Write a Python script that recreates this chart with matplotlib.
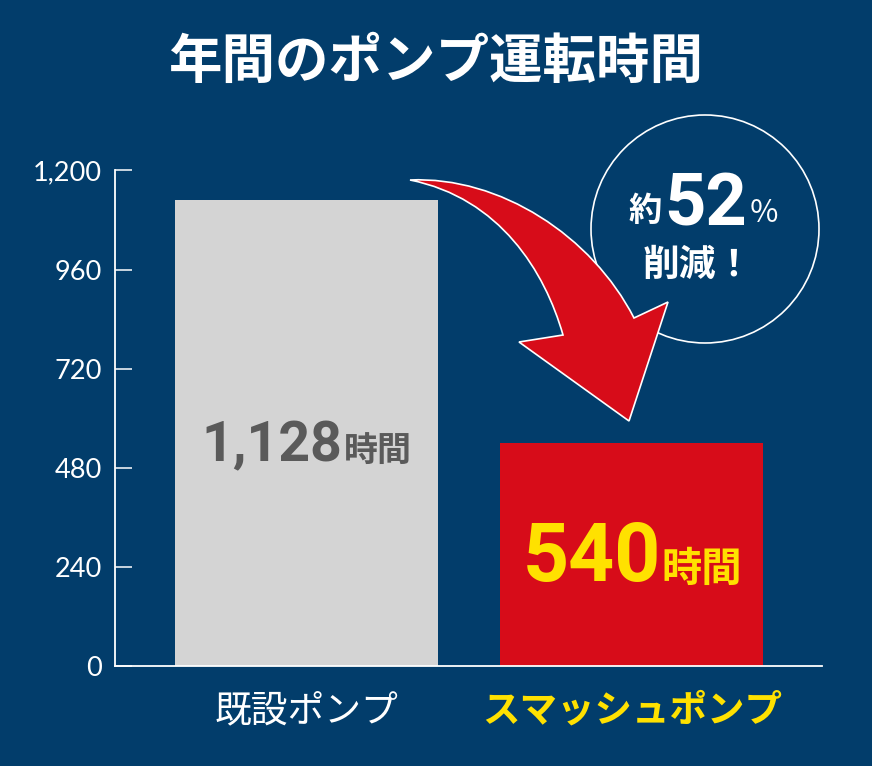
import matplotlib
matplotlib.use("Agg")
import matplotlib.pyplot as plt
from matplotlib.path import Path
from matplotlib.patches import PathPatch, Circle
import matplotlib.transforms as mtransforms

# ---- data ----
categories = ["既設ポンプ", "スマッシュポンプ"]
hours = [1128, 540]
value_labels = ["1,128", "540"]
unit_label = "時間"
yticks = [0, 240, 480, 720, 960, 1200]
ytick_labels = ["0", "240", "480", "720", "960", "1,200"]
title = "年間のポンプ運転時間"
badge_line1 = ("約", "52", "％")
badge_line2 = "削減！"

# ---- style ----
W, H, DPI = 872, 766, 100
BG = "#023D6B"
GREY = "#D4D4D4"
RED = "#D70C19"
YELLOW = "#FFE100"
DARK = "#5A5A5A"
CJK = "Noto Sans CJK JP"
NUM = "Roboto"
TICKF = "Lato"

fig = plt.figure(figsize=(W / DPI, H / DPI), dpi=DPI, facecolor=BG)
ax = fig.add_axes([115 / W, 100 / H, 707 / W, 495.5 / H])
ax.set_facecolor(BG)

x = [0, 1]
bar_colors = [GREY, RED]
ax.bar(x, hours, width=0.808, color=bar_colors, zorder=2)
ax.set_xlim(-0.588, 1.584)
ax.set_ylim(0, 1200)

for s in ["top", "right"]:
    ax.spines[s].set_visible(False)
for s in ["left", "bottom"]:
    ax.spines[s].set_color("white")
    ax.spines[s].set_linewidth(1.3)
    ax.spines[s].set_zorder(3)

ax.set_yticks(yticks)
ax.set_yticklabels(ytick_labels, fontfamily=TICKF, fontsize=19.5, color="white")
ax.tick_params(axis="y", direction="in", length=12.2, width=1.1, color="white", pad=9.4)

ax.set_xticks(x)
ax.set_xticklabels(categories, fontfamily=CJK, fontsize=26.5)
ax.tick_params(axis="x", length=0, pad=18)
xl = ax.get_xticklabels()
xl[0].set_color("white")
xl[0].set_fontweight("normal")
xl[1].set_color(YELLOW)
xl[1].set_fontweight("bold")
xl[1].set_fontsize(27)

# bar value labels
num_sizes = [40, 58]
unit_sizes = [24.5, 29]
txt_colors = [DARK, YELLOW]
split = [36, 29]
base_off = [-28, -26]
for i, v in enumerate(hours):
    ax.annotate(value_labels[i], xy=(x[i], v / 2), xytext=(split[i], base_off[i]),
                textcoords="offset pixels", ha="right", va="baseline",
                fontfamily=NUM, fontweight="bold", fontsize=num_sizes[i],
                color=txt_colors[i], zorder=4)
    ax.annotate(unit_label, xy=(x[i], v / 2), xytext=(split[i] + 1, base_off[i]),
                textcoords="offset pixels", ha="left", va="baseline",
                fontfamily=CJK, fontweight="bold", fontsize=unit_sizes[i],
                color=txt_colors[i], zorder=4)

# title
fig.text(0.5, 1 - 62 / H, title, ha="center", va="center", fontfamily=CJK,
         fontweight="bold", fontsize=38.5, color="white")

# pixel transform (top-left origin)
pix = mtransforms.Affine2D().scale(1 / DPI, -1 / DPI).translate(0, H / DPI) + fig.dpi_scale_trans

# badge circle
circ = Circle((705, 229), 114, transform=pix, facecolor="none", edgecolor="white",
              linewidth=1.2, zorder=5)
fig.add_artist(circ)

# curved arrow
verts = [
    (410, 180),
    (500, 176), (592, 236), (634, 318),
    (668, 302),
    (629, 421),
    (519, 342),
    (563, 335),
    (545, 272), (500, 198), (410, 180),
    (410, 180),
]
codes = [Path.MOVETO,
         Path.CURVE4, Path.CURVE4, Path.CURVE4,
         Path.LINETO, Path.LINETO, Path.LINETO, Path.LINETO,
         Path.CURVE4, Path.CURVE4, Path.CURVE4,
         Path.CLOSEPOLY]
arrow = PathPatch(Path(verts, codes), transform=pix, facecolor=RED, edgecolor="white",
                  linewidth=1.2, zorder=6)
fig.add_artist(arrow)

# badge text
fig.text(628 / W, 1 - 221 / H, badge_line1[0], ha="left", va="baseline",
         fontfamily=CJK, fontweight="bold", fontsize=24, color="white")
fig.text(664 / W, 1 - 225 / H, badge_line1[1], ha="left", va="baseline",
         fontfamily=NUM, fontweight="bold", fontsize=52, color="white")
fig.text(749 / W, 1 - 222 / H, badge_line1[2], ha="left", va="baseline",
         fontfamily=CJK, fontweight="normal", fontsize=22, color="white")
fig.text(698 / W, 1 - 265 / H, badge_line2, ha="center", va="center",
         fontfamily=CJK, fontweight="bold", fontsize=26.5, color="white")

fig.savefig("out.png", dpi=DPI, facecolor=BG)
